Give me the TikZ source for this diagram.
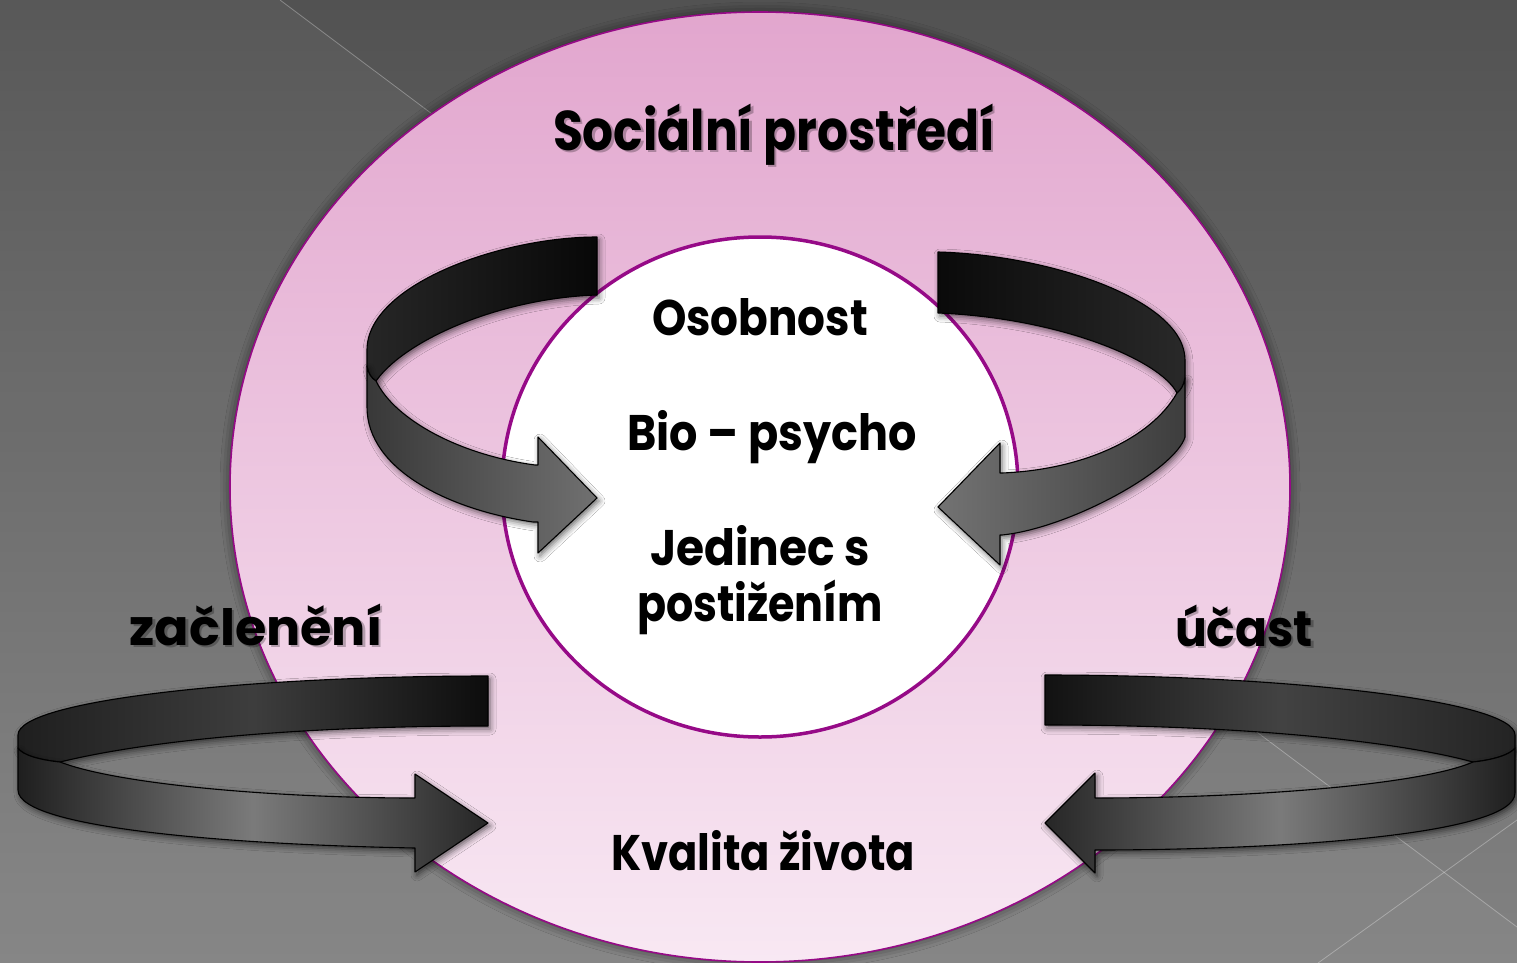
\documentclass[tikz,border=0pt]{standalone}
\usepackage{fontspec}
\setmainfont{Poppins}
\usepackage{graphicx}
\usetikzlibrary{shapes.geometric,shadows.blur}
\definecolor{mag}{RGB}{150,10,135}
\definecolor{pinktop}{RGB}{226,166,206}
\definecolor{pinkbot}{RGB}{248,232,243}
\definecolor{bgtop}{RGB}{82,82,82}
\definecolor{bgbot}{RGB}{130,130,130}
\newcommand{\shtxt}[2]{\resizebox{#1pt}{\height}{\rlap{\pgfsetfillopacity{0.25}\kern2.5pt\raisebox{-2.5pt}{#2}\pgfsetfillopacity{1}}#2}}
\newcommand{\fittxt}[2]{\resizebox{#1pt}{\height}{#2}}
\tikzset{
  rib/.style={draw=black, line width=1.1pt, line join=round,
    blur shadow={shadow xshift=2pt, shadow yshift=-3pt, shadow blur radius=6pt, shadow opacity=60}},
  lbl/.style={inner sep=0pt, anchor=base, text=black, font=\bfseries\fontsize{50}{60}\selectfont},
  biglbl/.style={lbl, font=\bfseries\fontsize{56}{66}\selectfont},
  bgline/.style={draw=white, draw opacity=0.3, line width=0.8pt}
}
\begin{document}
\begin{tikzpicture}[x=1pt,y=-1pt]
\useasboundingbox (0,0) rectangle (1517,963);
\clip (0,0) rectangle (1517,963);
% background
\shade[top color=bgtop, bottom color=bgbot] (0,0) rectangle (1517,963);
\fill[white, opacity=0.04] (0,0) -- (280,0) -- (1517,927) -- (1517,963) -- (0,963) -- cycle;
\draw[bgline] (280,0) -- (1517,927);
\draw[bgline] (1318,963) -- (1517,820);
% environment ellipse and core circle
\node[ellipse, inner sep=0pt, minimum width=1060pt, minimum height=950pt,
      top color=pinktop, bottom color=pinkbot, draw=mag, line width=1.6pt,
      blur shadow={shadow xshift=0pt, shadow yshift=0pt, shadow blur radius=10pt, shadow opacity=60}]
      (env) at (760,487) {};
\node[ellipse, inner sep=0pt, minimum width=516pt, minimum height=500pt,
      fill=white, draw=mag, line width=3.5pt] (core) at (760,487) {};
% top-left arrow
\path[rib, left color=black!85, right color=black!97]
 (597,237) .. controls (500,237) and (367,285) .. (367,350)
 -- (367,366) .. controls (368,373) and (371,378) .. (376,381)
 .. controls (405,340) and (500,298) .. (597,295) -- cycle;
\path[rib, left color=black!78, right color=black!56]
 (376,381) .. controls (395,420) and (460,455) .. (535,465)
 -- (538,465) -- (538,437) -- (597,498) -- (538,553) -- (538,522) -- (533,522)
 .. controls (450,510) and (367,470) .. (367,407)
 -- (367,366) .. controls (368,373) and (371,378) .. (376,381) -- cycle;
% top-right arrow
\path[rib, left color=black!96, right color=black!84]
 (938,252) .. controls (1050,255) and (1185,300) .. (1185,360)
 -- (1185,378) .. controls (1184,385) and (1181,390) .. (1177,393)
 .. controls (1160,360) and (1060,318) .. (938,313) -- cycle;
\path[rib, left color=black!55, right color=black!76]
 (1177,393) .. controls (1150,440) and (1080,470) .. (1002,473)
 -- (1000,473) -- (1000,443) -- (938,507) -- (1000,565) -- (1000,535) -- (1002,535)
 .. controls (1070,528) and (1175,470) .. (1185,437)
 -- (1185,378) .. controls (1184,385) and (1181,390) .. (1177,393) -- cycle;
% bottom-left arrow
\path[rib, left color=black!88, right color=black!95, middle color=black!76]
 (488,676) .. controls (250,676) and (18,700) .. (18,735)
 -- (18,748) .. controls (22,755) and (40,760) .. (60,762)
 .. controls (150,740) and (300,726) .. (488,726) -- cycle;
\path[rib, left color=black!88, right color=black!85, middle color=black!52]
 (60,762) .. controls (120,785) and (280,798) .. (415,798)
 -- (415,774) -- (488,823) -- (415,872) -- (415,848)
 .. controls (250,845) and (18,830) .. (18,790)
 -- (18,748) .. controls (22,755) and (40,760) .. (60,762) -- cycle;
% bottom-right arrow
\path[rib, left color=black!93, right color=black!86, middle color=black!74]
 (1045,675) .. controls (1280,675) and (1515,700) .. (1515,735)
 -- (1515,748) .. controls (1510,755) and (1492,760) .. (1473,762)
 .. controls (1400,742) and (1250,725) .. (1045,725) -- cycle;
\path[rib, left color=black!85, right color=black!88, middle color=black!52]
 (1473,762) .. controls (1420,785) and (1250,798) .. (1095,798)
 -- (1095,773) -- (1045,823) -- (1095,873) -- (1095,850)
 .. controls (1280,850) and (1515,835) .. (1515,793)
 -- (1515,748) .. controls (1510,755) and (1492,760) .. (1473,762) -- cycle;
% texts
\node[biglbl] (soc) at (774,150) {\shtxt{442}{Sociální prostředí}};
\node[lbl] (oso) at (760,335) {\fittxt{216}{Osobnost}};
\node[lbl] (bio) at (772,450) {\fittxt{289}{Bio – psycho}};
\node[lbl] (jed) at (760,565) {\fittxt{220}{Jedinec s}};
\node[lbl] (pos) at (760,621) {\fittxt{246}{postižením}};
\node[lbl] (zac) at (256,645) {\shtxt{253}{začlenění}};
\node[lbl] (uca) at (1244,646) {\shtxt{138}{účast}};
\node[lbl] (kva) at (763,870) {\fittxt{304}{Kvalita života}};
\end{tikzpicture}
\end{document}
